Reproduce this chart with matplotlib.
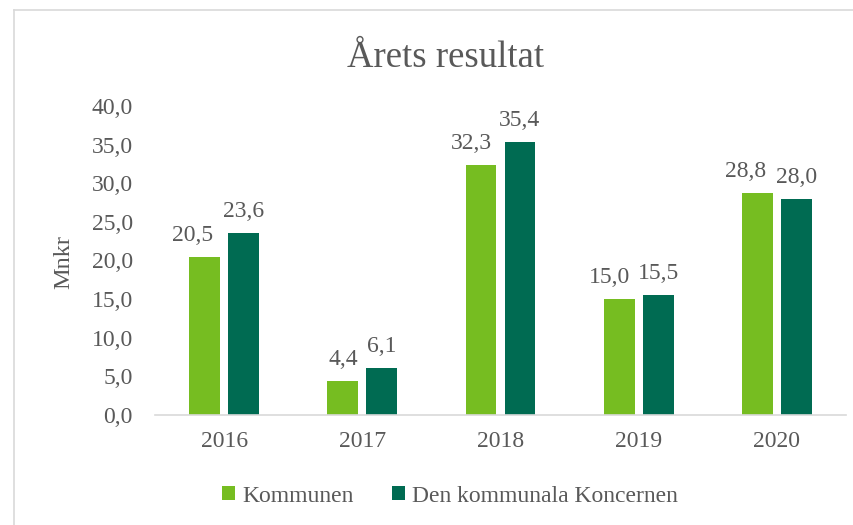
import matplotlib
matplotlib.use("Agg")
import matplotlib.pyplot as plt
from matplotlib.patches import Patch
from matplotlib.lines import Line2D
import numpy as np

years = ["2016", "2017", "2018", "2019", "2020"]
kommunen = [20.5, 4.4, 32.3, 15.0, 28.8]
koncernen = [23.6, 6.1, 35.4, 15.5, 28.0]
series_names = ["Kommunen", "Den kommunala Koncernen"]
yticks = [0, 5, 10, 15, 20, 25, 30, 35, 40]
# horizontal nudge (pixels) of light-series labels to avoid overlap
label_shift_px = [-12, 0, -10, -10, -12]

c_light = "#76BD21"
c_dark = "#006B52"
txt = "#595959"
W, H = 854, 525
DPI = 100

plt.rcParams['font.family'] = ['Liberation Serif', 'DejaVu Serif']

fig = plt.figure(figsize=(W / DPI, H / DPI), dpi=DPI)
ax = fig.add_axes([155 / W, (H - 415) / H, 691 / W, (415 - 106) / H])

x = np.arange(len(years))
bw = 0.224
off = 0.141
b1 = ax.bar(x - off, kommunen, bw, color=c_light, edgecolor="none")
b2 = ax.bar(x + off, koncernen, bw, color=c_dark, edgecolor="none")

def fmt(v):
    return f"{v:.1f}".replace(".", ",")

px2pt = 72 / DPI
for i, v in enumerate(kommunen):
    ax.annotate(fmt(v), (x[i] - off, v), xytext=(label_shift_px[i] * px2pt, 16 * px2pt),
                textcoords="offset points", ha="center", va="baseline",
                fontsize=17, color=txt)
for i, v in enumerate(koncernen):
    ax.annotate(fmt(v), (x[i] + off, v), xytext=(0, 16 * px2pt),
                textcoords="offset points", ha="center", va="baseline",
                fontsize=17, color=txt)

ax.set_xlim(-0.5, len(years) - 0.5)
ax.set_ylim(0, 40)
ax.set_yticks(yticks)
ax.set_yticklabels([fmt(t) for t in yticks])
ax.set_xticks(x)
ax.set_xticklabels(years)
ax.tick_params(axis="y", length=0, pad=22 * px2pt, labelsize=17, labelcolor=txt)
ax.tick_params(axis="x", length=0, pad=16 * px2pt, labelsize=17, labelcolor=txt)
for s in ["top", "right", "left"]:
    ax.spines[s].set_visible(False)
ax.spines["bottom"].set_color("#D9D9D9")
ax.spines["bottom"].set_linewidth(1.2)

fig.text(64 / W, 1 - 262 / H, "Mnkr", rotation=90, ha="center", va="center",
         fontsize=17.5, color=txt)
fig.text(446 / W, 1 - 67 / H, "Årets resultat", ha="center", va="baseline",
         fontsize=26.5, color=txt)

# chart area border
fig.add_artist(Line2D([14 / W, 14 / W], [0, 1 - 10 / H], color="#D9D9D9", lw=1.2,
                      transform=fig.transFigure))
fig.add_artist(Line2D([14 / W, 1], [1 - 10 / H, 1 - 10 / H], color="#D9D9D9", lw=1.2,
                      transform=fig.transFigure))

handles = [Patch(facecolor=c_light, edgecolor="none"), Patch(facecolor=c_dark, edgecolor="none")]
leg = fig.legend(handles, series_names, loc="center", bbox_to_anchor=(450 / W, 1 - 496 / H),
                 ncol=2, frameon=False, fontsize=17, handlelength=0.55, handleheight=0.55,
                 handletextpad=0.3, columnspacing=1.6, borderpad=0)
for t in leg.get_texts():
    t.set_color(txt)

fig.savefig("out.png", dpi=DPI)
